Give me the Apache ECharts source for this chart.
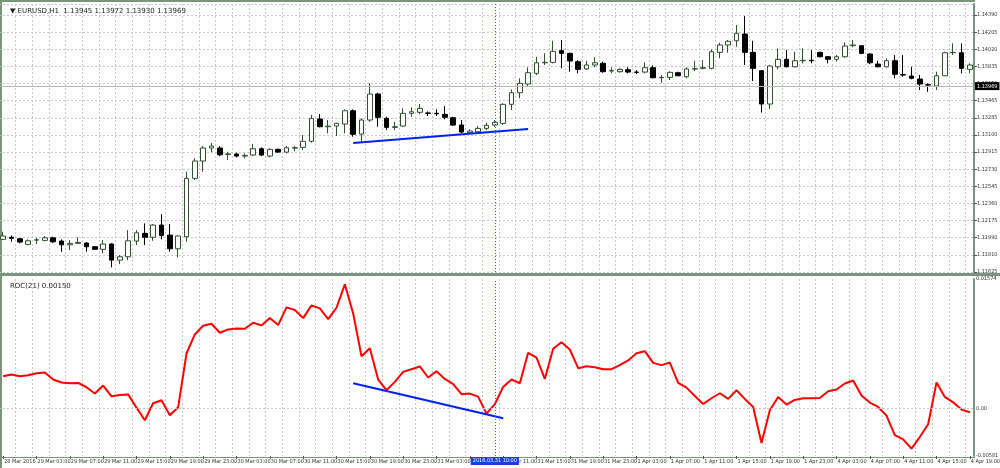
<!DOCTYPE html>
<html><head><meta charset="utf-8">
<script src="https://cdn.jsdelivr.net/npm/echarts@6/dist/echarts.min.js"></script>
<style>html,body{margin:0;padding:0;background:#fff}#c{width:1000px;height:468px}</style>
</head><body><div id="c"></div>
<script>
const openP=[1.11976,1.11998,1.11983,1.11922,1.11969,1.11965,1.11993,1.11958,1.11918,1.11933,
1.11936,1.11897,1.11869,1.11926,1.11753,1.11789,1.11958,1.12041,1.11998,1.12130,
1.12022,1.11875,1.12004,1.12632,1.12819,1.12959,1.12959,1.12889,1.12894,1.12872,
1.12883,1.12951,1.12872,1.12945,1.12915,1.12958,1.12966,1.13031,1.13271,1.13188,
1.13195,1.13217,1.13360,1.13109,1.13260,1.13540,1.13278,1.13181,1.13195,1.13332,
1.13343,1.13336,1.13332,1.13321,1.13285,1.13206,1.13123,1.13134,1.13170,1.13206,
1.13224,1.13429,1.13554,1.13647,1.13762,1.13876,1.13880,1.14006,1.13977,1.13887,
1.13809,1.13852,1.13870,1.13788,1.13780,1.13801,1.13776,1.13776,1.13823,1.13715,
1.13719,1.13769,1.13726,1.13809,1.13816,1.13816,1.13988,1.14067,1.14113,1.14185,
1.13988,1.13791,1.13432,1.13833,1.13913,1.13833,1.13898,1.13902,1.13988,1.13941,
1.13913,1.13941,1.14060,1.14059,1.13970,1.13862,1.13833,1.13898,1.13748,1.13733,
1.13701,1.13640,1.13626,1.13736,1.13984,1.13984,1.13805];
const closeP=[1.12012,1.11987,1.11947,1.11961,1.11970,1.11993,1.11950,1.11918,1.11933,1.11944,
1.11897,1.11869,1.11926,1.11753,1.11789,1.11961,1.12047,1.11998,1.12130,1.12019,
1.11875,1.12012,1.12632,1.12819,1.12959,1.12980,1.12886,1.12896,1.12872,1.12880,
1.12951,1.12883,1.12945,1.12915,1.12962,1.12962,1.13031,1.13278,1.13188,1.13195,
1.13224,1.13360,1.13106,1.13260,1.13540,1.13289,1.13181,1.13188,1.13332,1.13349,
1.13386,1.13332,1.13328,1.13289,1.13206,1.13131,1.13141,1.13170,1.13203,1.13235,
1.13429,1.13554,1.13655,1.13769,1.13876,1.13880,1.13999,1.13977,1.13895,1.13805,
1.13852,1.13876,1.13780,1.13791,1.13805,1.13776,1.13773,1.13823,1.13715,1.13719,
1.13773,1.13736,1.13809,1.13812,1.13823,1.13995,1.14067,1.14107,1.14193,1.13988,
1.13816,1.13432,1.13841,1.13913,1.13833,1.13898,1.13902,1.13898,1.13941,1.13913,
1.13941,1.14056,1.14067,1.13977,1.13876,1.13833,1.13898,1.13752,1.13744,1.13709,
1.13647,1.13636,1.13736,1.13984,1.13988,1.13816,1.13852];
const lowP=[1.11969,1.11950,1.11933,1.11912,1.11926,1.11955,1.11936,1.11843,1.11861,1.11926,
1.11843,1.11861,1.11826,1.11675,1.11710,1.11753,1.11915,1.11915,1.11961,1.11976,
1.11843,1.11782,1.11950,1.12614,1.12704,1.12915,1.12872,1.12829,1.12858,1.12848,
1.12872,1.12872,1.12858,1.12908,1.12901,1.12923,1.12937,1.13016,1.13181,1.13117,
1.13088,1.13117,1.13080,1.13026,1.13241,1.13188,1.13152,1.13152,1.13188,1.13295,
1.13324,1.13303,1.13303,1.13267,1.13195,1.13117,1.13117,1.13123,1.13152,1.13188,
1.13206,1.13367,1.13493,1.13626,1.13744,1.13852,1.13870,1.13816,1.13780,1.13762,
1.13798,1.13827,1.13769,1.13762,1.13769,1.13762,1.13755,1.13762,1.13709,1.13661,
1.13690,1.13733,1.13709,1.13787,1.13805,1.13805,1.13924,1.13984,1.14049,1.13852,
1.13679,1.13340,1.13378,1.13805,1.13827,1.13827,1.13870,1.13870,1.13934,1.13870,
1.13887,1.13930,1.14042,1.13970,1.13862,1.13827,1.13827,1.13709,1.13726,1.13698,
1.13583,1.13564,1.13583,1.13733,1.13959,1.13762,1.13762];
const highP=[1.12058,1.12019,1.11990,1.11976,1.11993,1.12012,1.12004,1.11976,1.11969,1.11998,
1.11947,1.11904,1.11969,1.11933,1.11807,1.12076,1.12076,1.12148,1.12141,1.12248,
1.12141,1.12022,1.12704,1.12848,1.12980,1.13012,1.12980,1.12919,1.12908,1.12901,
1.13002,1.12966,1.12955,1.12951,1.12980,1.12980,1.13098,1.13314,1.13324,1.13260,
1.13231,1.13375,1.13375,1.13278,1.13655,1.13554,1.13295,1.13241,1.13386,1.13396,
1.13432,1.13353,1.13375,1.13410,1.13295,1.13260,1.13160,1.13195,1.13231,1.13260,
1.13440,1.13590,1.13709,1.13827,1.13941,1.13977,1.14113,1.14121,1.13984,1.13905,
1.13898,1.13934,1.13887,1.13827,1.13816,1.13827,1.13798,1.13881,1.13848,1.13744,
1.13784,1.13780,1.13827,1.13898,1.13905,1.14021,1.14092,1.14121,1.14282,1.14379,
1.14113,1.13798,1.13852,1.14031,1.14013,1.13995,1.14031,1.14013,1.13995,1.13948,
1.13959,1.14096,1.14121,1.14067,1.13977,1.13898,1.13924,1.13959,1.13959,1.13833,
1.13744,1.13655,1.13780,1.13995,1.14085,1.14085,1.13870];
const roc=[0.00390,0.00411,0.00390,0.00403,0.00427,0.00435,0.00350,0.00314,0.00305,0.00309,
0.00256,0.00179,0.00277,0.00146,0.00162,0.00167,0.00008,-0.00146,0.00061,0.00098,
-0.00085,0.00012,0.00667,0.00899,0.01004,0.01029,0.00919,0.00960,0.00972,0.00968,
0.01041,0.01009,0.01098,0.01013,0.01228,0.01196,0.01098,0.01253,0.01216,0.01086,
0.01224,0.01509,0.01155,0.00634,0.00732,0.00350,0.00220,0.00321,0.00443,0.00476,
0.00509,0.00375,0.00451,0.00357,0.00293,0.00171,0.00179,0.00142,-0.00065,0.00049,
0.00260,0.00350,0.00305,0.00675,0.00618,0.00357,0.00724,0.00805,0.00716,0.00488,
0.00512,0.00500,0.00476,0.00476,0.00525,0.00582,0.00671,0.00695,0.00553,0.00525,
0.00557,0.00309,0.00252,0.00150,0.00052,0.00122,0.00183,0.00114,0.00220,0.00114,
0.00016,-0.00423,-0.00024,0.00138,0.00045,0.00101,0.00122,0.00122,0.00126,0.00207,
0.00228,0.00301,0.00338,0.00155,0.00070,0.00016,-0.00089,-0.00326,-0.00378,-0.00492,
-0.00350,-0.00195,0.00314,0.00138,0.00073,-0.00016,-0.00049];
const priceTicks=['1.11625','1.11810','1.11990','1.12175','1.12360','1.12545','1.12730','1.12915','1.13100','1.13285','1.13465','1.13650','1.13835','1.14020','1.14205','1.14390'];
const rocTicks={min:'-0.00581',zero:'0.00',max:'0.01574'};
const lastPrice=1.13969;
const trendPrice=[[42,1.13012],[63,1.13163]];
const trendRoc=[[42,0.00305],[60,-0.00122]];
const cursorBar=59, cursorLabel='2016.03.31 10:00';
const header='▼ EURUSD,H1  1.13945 1.13972 1.13930 1.13969';
const rocHeader='ROC(21) 0.00150';

const cats=[];
function pushRange(day,m,h0,h1){for(let h=h0;h<=h1;h++)cats.push(day+' '+m+' '+String(h).padStart(2,'0')+':00');}
pushRange(28,'Mar',23,23);pushRange(29,'Mar',0,23);pushRange(30,'Mar',0,23);pushRange(31,'Mar',0,23);pushRange(1,'Apr',0,23);pushRange(4,'Apr',0,19);

const base=1.11625, step=(1.14390-1.11625)/15;
const kdata=openP.map((o,i)=>[o-base,closeP[i]-base,lowP[i]-base,highP[i]-base]);

const chart=echarts.init(document.getElementById('c'));
const F='DejaVu Sans';
const NF="'Liberation Sans Narrow','DejaVu Sans Condensed','Liberation Sans',sans-serif";
const splitV={show:true,interval:1,lineStyle:{color:'#c8c8c8',type:[2,2],width:1}};
chart.setOption({
  animation:false,
  textStyle:{fontFamily:F},
  title:[{text:header,left:5,top:3,textStyle:{fontSize:7,fontWeight:'normal',color:'#222',fontFamily:F}},
         {text:rocHeader,left:5,top:278,textStyle:{fontSize:7,fontWeight:'normal',color:'#222',fontFamily:F}}],
  grid:[{left:-1,right:26,top:4,height:268,outerBoundsMode:'none',containLabel:false},
        {left:-1,right:26,top:279,height:177,outerBoundsMode:'none',containLabel:false}],
  xAxis:[
    {gridIndex:0,type:'category',data:cats,boundaryGap:true,axisLabel:{show:false},
     axisTick:{show:false,alignWithLabel:true,interval:1},axisLine:{show:false,onZero:false},splitLine:splitV},
    {gridIndex:1,type:'category',data:cats,boundaryGap:true,
     axisLine:{show:false,onZero:false},splitLine:splitV,
     axisTick:{show:true,alignWithLabel:true,interval:3,length:3,lineStyle:{color:'#555'}},
     axisLabel:{show:true,interval:3,fontSize:5.5,color:'#333',align:'left',margin:3,fontFamily:NF,hideOverlap:false,showMinLabel:true,
      padding:[0,0,0,1],formatter:(v,i)=>i===0?'28 Mar 2016':v}}],
  yAxis:[{gridIndex:0,type:'value',position:'right',min:0,max:(272-4)/9295,interval:step,
     axisLine:{show:true,lineStyle:{color:'#7a967a',width:2}},axisTick:{show:true,length:3,lineStyle:{color:'#555'}},
     axisLabel:{fontSize:5.5,color:'#333',margin:3,fontFamily:NF,showMaxLabel:false,
       formatter:v=>{const k=Math.round(v/step);return priceTicks[k]||'';}},
     splitLine:{show:true,lineStyle:{color:'#c8c8c8',type:[2,2]}}},
    {gridIndex:1,type:'value',position:'right',min:-0.00581,max:0.01574,interval:0.00581,
     axisLine:{show:true,lineStyle:{color:'#7a967a',width:2}},axisTick:{show:false},
     axisLabel:{fontSize:5.5,color:'#333',margin:2,fontFamily:NF,showMaxLabel:true,showMinLabel:true,
       formatter:v=>Math.abs(v)<1e-7?rocTicks.zero:(v<-0.0058?rocTicks.min:(v>0.0157?rocTicks.max:''))},
     splitLine:{show:false}}],
  series:[
    {type:'candlestick',xAxisIndex:0,yAxisIndex:0,data:kdata,barWidth:5,
     itemStyle:{color:'#ffffff',color0:'#000000',borderColor:'#2f4f2f',borderColor0:'#000000',borderWidth:1},
     markLine:{silent:true,symbol:'none',animation:false,data:[
       {yAxis:lastPrice-base,lineStyle:{color:'#b8b8b8',type:'solid',width:1},
        label:{show:true,position:'end',formatter:String(lastPrice),backgroundColor:'#000',color:'#fff',fontSize:5.5,fontFamily:NF,padding:[1,2],distance:1}},
       [{coord:[trendPrice[0][0],trendPrice[0][1]-base],lineStyle:{color:'#0022ee',type:'solid',width:2},label:{show:false}},
        {coord:[trendPrice[1][0],trendPrice[1][1]-base]}],
       {xAxis:cursorBar,lineStyle:{color:'#3355ff',type:[1,2],width:1},label:{show:false}}
     ]}},
    {type:'line',xAxisIndex:1,yAxisIndex:1,data:roc,symbol:'none',lineStyle:{color:'#ff0000',width:2},
     markLine:{silent:true,symbol:'none',animation:false,data:[
       {yAxis:0,lineStyle:{color:'#c8c8c8',type:[2,2],width:1},label:{show:false}},
       [{coord:[trendRoc[0][0],trendRoc[0][1]],lineStyle:{color:'#0022ee',type:'solid',width:2},label:{show:false}},
        {coord:[trendRoc[1][0],trendRoc[1][1]]}],
       {xAxis:cursorBar,lineStyle:{color:'#3355ff',type:[1,2],width:1},
        label:{show:true,position:'start',formatter:cursorLabel,backgroundColor:'#1a3fd6',color:'#fff',fontSize:5.5,fontFamily:NF,padding:[1,2],distance:1}}
     ]}}
  ],
  graphic:[
    {type:'rect',shape:{x:0,y:0,width:2,height:468},style:{fill:'#7a967a'},silent:true},
    {type:'rect',shape:{x:0,y:0,width:975,height:2},style:{fill:'#7a967a'},silent:true},
    {type:'rect',shape:{x:0,y:273,width:1000,height:3},style:{fill:'#7a967a'},silent:true},
    {type:'rect',shape:{x:0,y:457,width:975,height:1},style:{fill:'#7a967a'},silent:true}
  ]
});
</script></body></html>
